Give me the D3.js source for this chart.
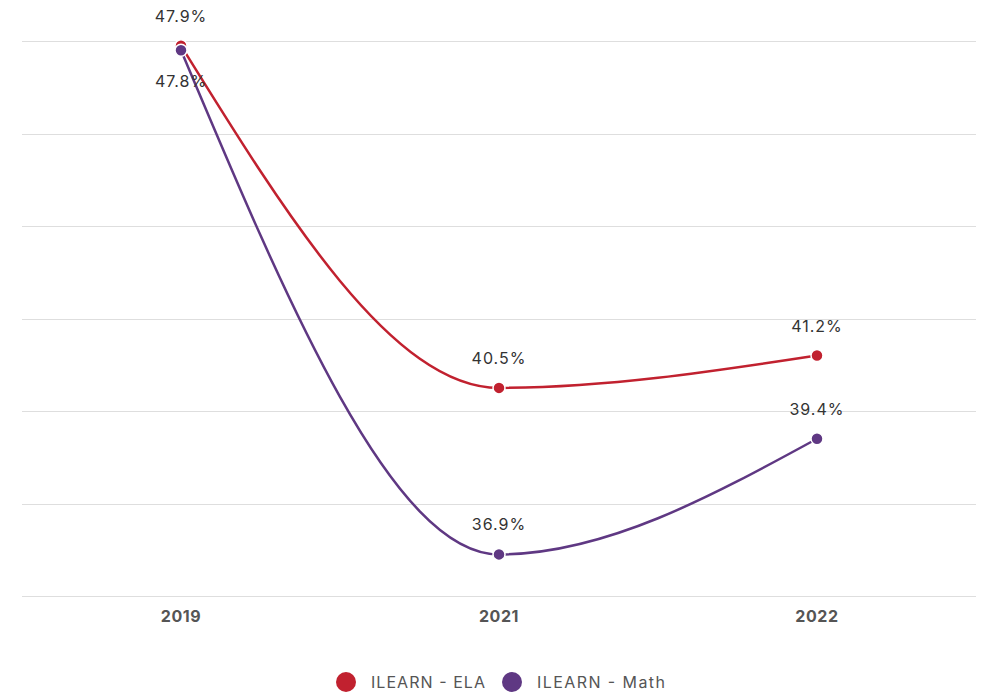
<!DOCTYPE html>
<html>
<head>
<meta charset="utf-8">
<script src="https://cdn.jsdelivr.net/npm/d3@7"></script>
<style>
  body { margin: 0; background: #fff; }
  text { font-family: "Inter", "Roboto", sans-serif; }
</style>
</head>
<body>
<div id="chart"></div>
<script>
// data
const years = ["2019", "2021", "2022"];
const elaValues = [47.9, 40.5, 41.2];
const mathValues = [47.8, 36.9, 39.4];
const seriesNames = ["ILEARN - ELA", "ILEARN - Math"];
const seriesColors = ["#c1212f", "#5f3883"];
const yTicks = [36, 38, 40, 42, 44, 46, 48];

const width = 987, height = 695;
const margin = {top: 41, right: 11, bottom: 99, left: 22};

const svg = d3.select("#chart").append("svg")
    .attr("width", width)
    .attr("height", height);

const x = d3.scaleBand()
    .domain(years)
    .range([margin.left, width - margin.right]);

const y = d3.scaleLinear()
    .domain([36, 48])
    .range([height - margin.bottom, margin.top]);

// gridlines
svg.append("g")
    .selectAll("line")
    .data(yTicks)
    .join("line")
    .attr("x1", margin.left)
    .attr("x2", width - margin.right)
    .attr("y1", d => Math.round(y(d)) + 0.5)
    .attr("y2", d => Math.round(y(d)) + 0.5)
    .attr("stroke", "#dedede")
    .attr("stroke-width", 1);

// x axis
const xAxis = d3.axisBottom(x).tickSize(0).tickPadding(15);
const gx = svg.append("g")
    .attr("transform", "translate(0," + (height - margin.bottom) + ")")
    .call(xAxis);
gx.select(".domain").remove();
gx.selectAll("text")
    .attr("font-size", 16)
    .attr("font-weight", 700)
    .attr("letter-spacing", "0.6px")
    .attr("fill", "#555");

const series = [
    {name: seriesNames[0], values: elaValues, color: seriesColors[0], above: [true, true, true]},
    {name: seriesNames[1], values: mathValues, color: seriesColors[1], above: [false, true, true]}
];

const line = d3.line()
    .x((d, i) => x(years[i]) + x.bandwidth() / 2)
    .y(d => y(d))
    .curve(d3.curveMonotoneX);

series.forEach(s => {
    svg.append("path")
        .datum(s.values)
        .attr("d", line)
        .attr("fill", "none")
        .attr("stroke", s.color)
        .attr("stroke-width", 2.5);
});

series.forEach(s => {
    svg.append("g")
        .selectAll("circle")
        .data(s.values)
        .join("circle")
        .attr("cx", (d, i) => x(years[i]) + x.bandwidth() / 2)
        .attr("cy", d => y(d))
        .attr("r", 6)
        .attr("fill", s.color)
        .attr("stroke", "#fff")
        .attr("stroke-width", 1.5);
});

series.forEach(s => {
    svg.append("g")
        .selectAll("text")
        .data(s.values)
        .join("text")
        .attr("x", (d, i) => x(years[i]) + x.bandwidth() / 2)
        .attr("y", (d, i) => y(d) + (s.above[i] ? -24 : 37))
        .attr("text-anchor", "middle")
        .attr("font-size", 16)
        .attr("letter-spacing", "1px")
        .attr("fill", "#333")
        .text(d => d.toFixed(1) + "%");
});

// legend
const legend = svg.append("g")
    .attr("transform", "translate(0," + 682 + ")");
const legendX = [346, 512];
const legendTextW = [114, 128];
series.forEach((s, i) => {
    legend.append("circle")
        .attr("cx", legendX[i])
        .attr("cy", 0)
        .attr("r", 10)
        .attr("fill", s.color);
    legend.append("text")
        .attr("x", legendX[i] + 25)
        .attr("y", 5.5)
        .attr("font-size", 16)
        .attr("fill", "#555")
        .attr("textLength", legendTextW[i])
        .attr("lengthAdjust", "spacing")
        .text(s.name);
});
</script>
</body>
</html>
